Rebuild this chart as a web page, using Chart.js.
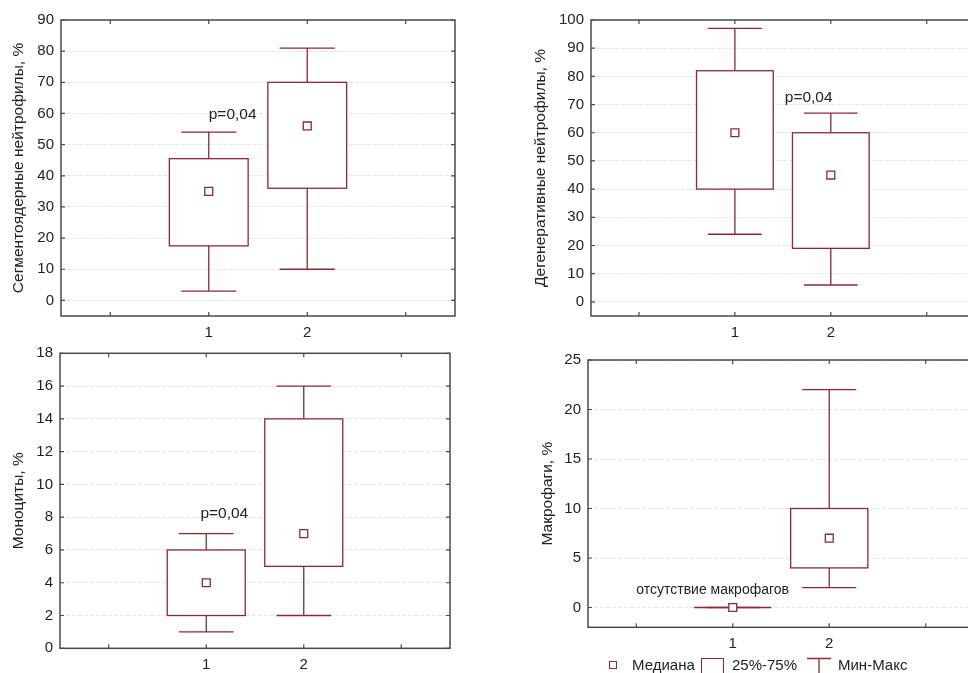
<!DOCTYPE html>
<html>
<head>
<meta charset="utf-8">
<script src="https://cdn.jsdelivr.net/npm/chart.js@4/dist/chart.umd.min.js"></script>
<style>
html, body { margin: 0; padding: 0; background: #fff; overflow: hidden; width: 968px; height: 673px; }
.panel { position: absolute; }
.legend-item { position: absolute; font-family: "Liberation Sans", Arial, sans-serif; font-size: 15px; color: #222; white-space: nowrap; line-height: 17px; }
</style>
</head>
<body>
<div class="panel" style="left:0;top:0;"><canvas id="c1" width="470" height="345"></canvas></div>
<div class="panel" style="left:484px;top:0;"><canvas id="c2" width="500" height="345"></canvas></div>
<div class="panel" style="left:0;top:335px;"><canvas id="c3" width="470" height="338"></canvas></div>
<div class="panel" style="left:484px;top:335px;"><canvas id="c4" width="500" height="338"></canvas></div>

<div class="legend-item" style="left:609px;top:661px;width:6px;height:6px;border:1.3px solid #8b2a36;"></div>
<div class="legend-item" style="left:632px;top:656px;">Медиана</div>
<div class="legend-item" style="left:701px;top:658px;width:23px;height:18px;border:1.3px solid #8b2a36;box-sizing:border-box;"></div>
<div class="legend-item" style="left:732px;top:656px;">25%-75%</div>
<svg class="legend-item" style="left:806px;top:657px;" width="26" height="16"><path d="M1 1.5 H25 M13 1.5 V16" stroke="#8b2a36" stroke-width="1.3" fill="none"/></svg>
<div class="legend-item" style="left:838px;top:656px;">Мин-Макс</div>

<script>
// ---------- data ----------
const groups = ['1', '2'];
const xTickValues = [0, 1, 2, 3];

// Сегментоядерные нейтрофилы, %
const segMin = [3, 10];
const segQ1 = [17.5, 36];
const segMedian = [35, 56];
const segQ3 = [45.5, 70];
const segMax = [54, 81];
const segTicks = [0, 10, 20, 30, 40, 50, 60, 70, 80, 90];

// Дегенеративные нейтрофилы, %
const degMin = [24, 6];
const degQ1 = [40, 19];
const degMedian = [60, 45];
const degQ3 = [82, 60];
const degMax = [97, 67];
const degTicks = [0, 10, 20, 30, 40, 50, 60, 70, 80, 90, 100];

// Моноциты, %
const monoMin = [1, 2];
const monoQ1 = [2, 5];
const monoMedian = [4, 7];
const monoQ3 = [6, 14];
const monoMax = [7, 16];
const monoTicks = [0, 2, 4, 6, 8, 10, 12, 14, 16, 18];

// Макрофаги, %
const macMin = [0, 2];
const macQ1 = [0, 4];
const macMedian = [0, 7];
const macQ3 = [0, 10];
const macMax = [0, 22];
const macTicks = [0, 5, 10, 15, 20, 25];

// ---------- styling ----------
const BOX_COLOR = '#8b2a36';
const FRAME_COLOR = '#4a4a4a';
const TEXT_COLOR = '#222';
const FONT = 'Liberation Sans';
const positions = groups.map(Number);

const boxPlugin = {
  id: 'boxes',
  beforeDatasetsDraw(chart, args, o) {
    const {ctx, scales: {x, y}} = chart;
    ctx.save();
    ctx.strokeStyle = BOX_COLOR;
    ctx.lineWidth = 1.3;
    ctx.fillStyle = '#fff';
    positions.forEach((pos, i) => {
      const cx = x.getPixelForValue(pos);
      const bh = x.getPixelForValue(pos + o.boxHalf) - cx;
      const ch = x.getPixelForValue(pos + o.capHalf) - cx;
      const yMin = y.getPixelForValue(o.min[i]);
      const yQ1 = y.getPixelForValue(o.q1[i]);
      const yQ3 = y.getPixelForValue(o.q3[i]);
      const yMax = y.getPixelForValue(o.max[i]);
      ctx.beginPath();
      ctx.moveTo(cx, yMax); ctx.lineTo(cx, yQ3);
      ctx.moveTo(cx, yQ1); ctx.lineTo(cx, yMin);
      ctx.moveTo(cx - ch, yMax); ctx.lineTo(cx + ch, yMax);
      ctx.moveTo(cx - ch, yMin); ctx.lineTo(cx + ch, yMin);
      ctx.stroke();
      ctx.fillRect(cx - bh, yQ3, 2 * bh, yQ1 - yQ3);
      ctx.strokeRect(cx - bh, yQ3, 2 * bh, yQ1 - yQ3);
    });
    ctx.restore();
  }
};

const framePlugin = {
  id: 'frame',
  afterDatasetsDraw(chart) {
    const {ctx, chartArea: a, scales: {x, y}} = chart;
    ctx.save();
    ctx.strokeStyle = FRAME_COLOR;
    ctx.lineWidth = 1.5;
    ctx.strokeRect(a.left, a.top, a.right - a.left, a.bottom - a.top);
    ctx.lineWidth = 1.2;
    ctx.beginPath();
    x.ticks.forEach(t => {
      const px = x.getPixelForValue(t.value);
      ctx.moveTo(px, a.bottom); ctx.lineTo(px, a.bottom - 4);
      ctx.moveTo(px, a.top); ctx.lineTo(px, a.top + 4);
    });
    y.ticks.forEach(t => {
      const py = y.getPixelForValue(t.value);
      ctx.moveTo(a.left, py); ctx.lineTo(a.left + 4, py);
      ctx.moveTo(a.right, py); ctx.lineTo(a.right - 4, py);
    });
    ctx.stroke();
    ctx.restore();
  }
};

const notePlugin = {
  id: 'notes',
  afterDatasetsDraw(chart, args, o) {
    const {ctx, scales: {x, y}} = chart;
    ctx.save();
    ctx.fillStyle = TEXT_COLOR;
    ctx.textAlign = 'left';
    ctx.textBaseline = 'middle';
    (o.items || []).forEach(it => {
      ctx.font = (it.size || 14) + 'px "' + FONT + '"';
      ctx.fillText(it.text, x.getPixelForValue(it.x), y.getPixelForValue(it.y));
    });
    ctx.restore();
  }
};

function makeChart(id, cfg) {
  const medData = positions.map((p, i) => ({x: p, y: cfg.median[i]}));
  return new Chart(document.getElementById(id), {
    type: 'scatter',
    data: {
      datasets: [{
        label: 'Медиана',
        data: medData,
        pointStyle: 'rect',
        pointRadius: 5.6,
        pointHoverRadius: 5.6,
        borderWidth: 1.3,
        borderColor: BOX_COLOR,
        backgroundColor: '#fff'
      }]
    },
    options: {
      responsive: false,
      animation: false,
      events: [],
      layout: { padding: cfg.padding },
      plugins: {
        legend: { display: false },
        tooltip: { enabled: false },
        boxes: { min: cfg.min, q1: cfg.q1, q3: cfg.q3, max: cfg.max, boxHalf: 0.4, capHalf: 0.28 },
        notes: { items: cfg.notes }
      },
      scales: {
        x: {
          type: 'linear',
          min: -0.5,
          max: 3.5,
          afterBuildTicks: s => { s.ticks = xTickValues.map(v => ({value: v})); },
          afterFit: s => { s.height = cfg.xHeight; },
          grid: { display: false, drawTicks: false },
          border: { display: false },
          ticks: {
            autoSkip: false,
            maxRotation: 0,
            padding: cfg.xPad,
            color: TEXT_COLOR,
            font: { family: FONT, size: 15 },
            callback: v => { const k = positions.indexOf(v); return k >= 0 ? groups[k] : ''; }
          }
        },
        y: {
          type: 'linear',
          min: cfg.yMin,
          max: cfg.yMax,
          afterBuildTicks: s => { s.ticks = cfg.ticks.map(v => ({value: v})); },
          afterFit: s => { s.width = cfg.yWidth; },
          grid: { color: '#e6e6e6', lineWidth: 1, drawTicks: false },
          border: { display: false, dash: [4, 2] },
          ticks: {
            padding: 7,
            color: TEXT_COLOR,
            font: { family: FONT, size: 15 }
          },
          title: {
            display: true,
            text: cfg.title,
            color: TEXT_COLOR,
            font: { family: FONT, size: 15.5 },
            padding: { top: cfg.titlePad, bottom: 0 }
          }
        }
      }
    },
    plugins: [boxPlugin, framePlugin, notePlugin]
  });
}

makeChart('c1', {
  title: 'Сегментоядерные нейтрофилы, %',
  min: segMin, q1: segQ1, median: segMedian, q3: segQ3, max: segMax, ticks: segTicks,
  yMin: -5, yMax: 90,
  padding: { left: 0, top: 20, right: 15, bottom: 0 },
  yWidth: 61, xHeight: 29, xPad: 8, titlePad: 9.7,
  notes: [{ text: 'p=0,04', x: 1.0, y: 59.5, size: 15.5 }]
});

makeChart('c2', {
  title: 'Дегенеративные нейтрофилы, %',
  min: degMin, q1: degQ1, median: degMedian, q3: degQ3, max: degMax, ticks: degTicks,
  yMin: -5, yMax: 100,
  padding: { left: 0, top: 20, right: 9.3, bottom: 0 },
  yWidth: 107, xHeight: 29, xPad: 8, titlePad: 47.4,
  notes: [{ text: 'p=0,04', x: 1.52, y: 72.5, size: 15.5 }]
});

makeChart('c3', {
  title: 'Моноциты, %',
  min: monoMin, q1: monoQ1, median: monoMedian, q3: monoQ3, max: monoMax, ticks: monoTicks,
  yMin: 0, yMax: 18,
  padding: { left: 0, top: 18.3, right: 20, bottom: 0 },
  yWidth: 60, xHeight: 24.7, xPad: 8, titlePad: 9,
  notes: [{ text: 'p=0,04', x: 0.94, y: 8.2, size: 15.5 }]
});

makeChart('c4', {
  title: 'Макрофаги, %',
  min: macMin, q1: macQ1, median: macMedian, q3: macQ3, max: macMax, ticks: macTicks,
  yMin: -2, yMax: 25,
  padding: { left: 0, top: 25, right: 10, bottom: 0 },
  yWidth: 104, xHeight: 45.7, xPad: 8, titlePad: 54,
  notes: [{ text: 'отсутствие макрофагов', x: 0.0, y: 1.8, size: 14 }]
});
</script>
</body>
</html>
